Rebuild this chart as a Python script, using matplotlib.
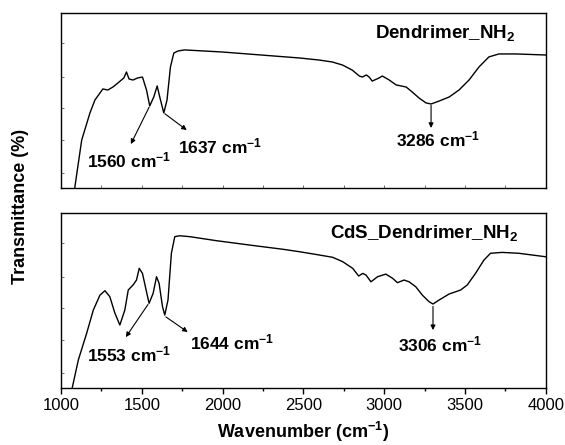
import matplotlib
matplotlib.use("Agg")
import matplotlib.pyplot as plt
from matplotlib.ticker import MultipleLocator, NullFormatter

plt.rcParams['font.family'] = ['Liberation Sans', 'DejaVu Sans']
plt.rcParams['mathtext.fontset'] = 'custom'
plt.rcParams['mathtext.rm'] = 'Liberation Sans'
plt.rcParams['mathtext.bf'] = 'Liberation Sans:bold'
plt.rcParams['mathtext.default'] = 'bf'

# Dendrimer_NH2 spectrum (wavenumber, transmittance in arbitrary units)
wn_top = [1080, 1128, 1179, 1210, 1259, 1290, 1321, 1352, 1389, 1405, 1421, 1445,
          1475, 1504, 1529, 1549, 1574, 1595, 1611, 1636, 1656, 1677, 1698, 1724,
          1765, 2000, 2475, 2599, 2679, 2741, 2802, 2846, 2865, 2889, 2907, 2926,
          2969, 2988, 3031, 3074, 3105, 3136, 3173, 3216, 3259, 3290, 3340, 3402,
          3463, 3525, 3586, 3648, 3710, 3815, 4000]
t_top = [-3, 27.4, 42.9, 50.3, 56.6, 56.0, 57.7, 60.0, 62.9, 66.3, 62.3, 61.7,
         62.9, 63.4, 56.0, 46.9, 52.0, 58.3, 52.0, 42.9, 50.3, 69.1, 77.1, 78.3,
         78.9, 77.7, 74.3, 73.1, 72.0, 70.3, 67.4, 64.0, 63.4, 64.6, 63.4, 61.1,
         62.9, 64.0, 61.7, 58.9, 58.3, 57.7, 54.9, 51.4, 48.6, 48.0, 49.7, 52.0,
         56.0, 61.7, 69.1, 74.9, 76.6, 76.6, 76.0]

# CdS_Dendrimer_NH2 spectrum
wn_bot = [1062, 1107, 1159, 1200, 1241, 1272, 1302, 1333, 1364, 1395, 1416, 1446,
          1467, 1484, 1504, 1529, 1545, 1570, 1591, 1607, 1628, 1642, 1662, 1683,
          1704, 1735, 1796, 1961, 2167, 2372, 2475, 2599, 2681, 2743, 2805, 2842,
          2867, 2887, 2918, 2959, 3010, 3052, 3082, 3123, 3154, 3195, 3236, 3278,
          3302, 3340, 3401, 3473, 3514, 3565, 3617, 3658, 3730, 3833, 4000]
t_bot = [-3, 16.0, 31.4, 44.6, 53.1, 55.6, 52.2, 42.9, 36.0, 44.6, 56.0, 58.9,
         61.7, 68.4, 65.5, 55.0, 48.4, 54.1, 63.6, 59.8, 46.5, 41.7, 50.3, 77.0,
         86.5, 87.0, 86.5, 84.2, 81.7, 79.3, 77.9, 76.0, 74.7, 72.2, 68.4, 64.0,
         65.5, 64.6, 60.7, 63.6, 65.1, 62.7, 60.2, 61.7, 60.7, 57.9, 53.1, 49.3,
         48.0, 50.3, 53.7, 56.0, 58.9, 65.5, 73.1, 77.0, 77.5, 77.0, 75.0]

# peak labels: (text, peak x, peak y, arrow head x, arrow head y, text x, text y)
peaks_top = [("1560", 1549, 46.9, 1432, 25.1, 1158, 12.0),
             ("1637", 1636, 42.9, 1778, 33.1, 1724, 19.8),
             ("3286", 3290, 48.0, 3290, 34.3, 3072, 23.6)]
peaks_bot = [("1553", 1543, 48.4, 1401, 29.1, 1158, 15.0),
             ("1644", 1642, 41.1, 1784, 32.0, 1796, 22.1),
             ("3306", 3302, 47.4, 3302, 33.1, 3088, 21.1)]

fig = plt.figure(figsize=(5.65, 4.45), dpi=100)
ax1 = fig.add_axes([0.108, 0.5775, 0.858, 0.3933])
ax2 = fig.add_axes([0.108, 0.128, 0.858, 0.3933])

for ax, wn, t, peaks, name, nx in [
        (ax1, wn_top, t_top, peaks_top, r'Dendrimer_NH$_2$', 3810),
        (ax2, wn_bot, t_bot, peaks_bot, r'CdS_Dendrimer_NH$_2$', 3830)]:
    ax.plot(wn, t, color='black', lw=1.0)
    ax.set_xlim(1000, 4000)
    ax.set_ylim(0, 100)
    ax.xaxis.set_major_locator(MultipleLocator(500))
    ax.xaxis.set_minor_locator(MultipleLocator(250))
    ax.set_yticks([8.4, 27.4, 45.5, 63.6, 82.7])
    ax.yaxis.set_major_formatter(NullFormatter())
    ax.tick_params(axis='y', direction='in', length=2, width=0.6, color='#555555')
    for s in ax.spines.values():
        s.set_linewidth(1.0)
    for lab, px, py, hx, hy, tx, ty in peaks:
        ax.annotate('', xy=(hx, hy), xytext=(px, py),
                    arrowprops=dict(arrowstyle='-|>', color='black', lw=0.8,
                                    mutation_scale=7, shrinkA=1, shrinkB=0))
        ax.text(tx, ty, lab + r' cm$^{-1}$', fontsize=12.5, fontweight='bold',
                va='baseline', ha='left')
    ax.text(nx, 85.5, name, fontsize=13.5, fontweight='bold', va='baseline', ha='right')

ax1.tick_params(axis='x', which='both', direction='in', length=2, width=0.6,
                color='#555555', labelbottom=False)
ax2.tick_params(axis='x', which='major', direction='out', length=4, width=1.0,
                labelsize=12, pad=3)
ax2.tick_params(axis='x', which='minor', direction='out', length=2.5, width=1.0)

ax2.set_xlabel(r'Wavenumber (cm$^{-1}$)', fontsize=13, fontweight='bold', labelpad=5)
fig.text(0.036, 0.535, 'Transmittance (%)', rotation=90, fontsize=13,
         fontweight='bold', ha='center', va='center')

fig.savefig('out.png', dpi=100)
